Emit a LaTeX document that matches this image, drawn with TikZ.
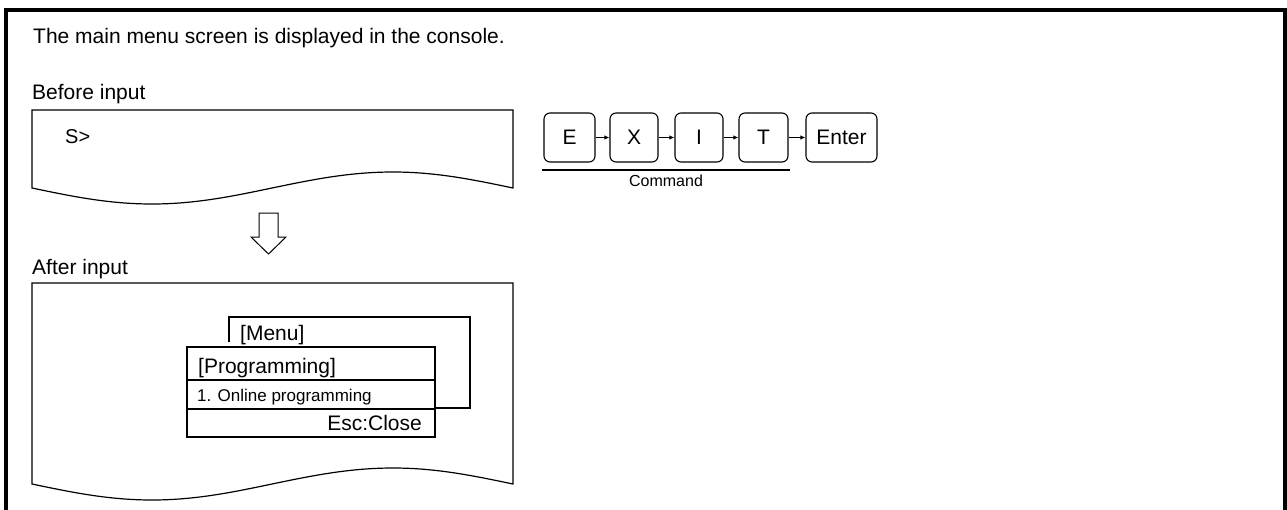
\documentclass[tikz,border=0pt]{standalone}
\usepackage{fontspec}
\setmainfont{Liberation Sans}
\usetikzlibrary{arrows.meta}
\begin{document}
\begin{tikzpicture}[x=1pt,y=-1pt,
  txt/.style={inner sep=0pt,anchor=base west,font=\fontsize{21}{25}\selectfont},
  smalltxt/.style={inner sep=0pt,anchor=base west,font=\fontsize{17}{20}\selectfont},
  keybox/.style={draw,line width=1.1pt,rounded corners=6pt,minimum height=49pt,inner sep=0pt,font=\fontsize{21}{25}\selectfont},
  keyarrow/.style={line width=1.1pt,-{Latex[length=5pt,width=4.5pt]}},
  screen/.style={line width=1.2pt,line join=miter},
  winline/.style={line width=1.3pt}]
\useasboundingbox (0,0) rectangle (1287,509);
% outer frame
\draw[line width=3.5pt] (6,520)--(6,10)--(1285,10)--(1285,520);
% texts
\node[txt] (title) at (33,43) {The main menu screen is displayed in the console.};
\node[txt] (before) at (32,99) {Before input};
\node[txt] (after) at (32,274) {After input};
% before screen
\draw[screen] (32,188)--(32,110)--(513,110)--(513,188) sin (393,172) cos (272,188) sin (152,204) cos (32,188) -- cycle;
\node[txt,font=\fontsize{20}{24}\selectfont] (prompt) at (65,143) {S>};
% down arrow
\draw[line width=1pt,line join=miter] (259,213)--(278,213)--(278,237)--(286,237)--(268.5,254)--(251,237)--(259,237)--cycle;
% after screen
\draw[screen] (32,484)--(32,283)--(513,283)--(513,484) sin (393,468) cos (272,484) sin (152,500) cos (32,484) -- cycle;
% menu window (back)
\draw[line width=1.1pt,line join=miter] (229,342)--(229,317)--(470,317)--(470,408)--(435,408);
\node[txt] (menu) at (240,340) {[Menu]};
% programming window
\draw[winline] (187,347) rectangle (435,437);
\draw[winline] (187,380)--(435,380);
\draw[winline] (187,409)--(435,409);
\node[txt] (prog) at (198,373) {[Programming]};
\node[smalltxt] (online) at (197,401.5) {1. Online programming};
\node[txt,anchor=base east] (esc) at (422,430.5) {Esc:Close};
% keys
\node[keybox,minimum width=51pt] (kE) at (569.5,137.5) {E};
\node[keybox,minimum width=48pt] (kX) at (634,137.5) {X};
\node[keybox,minimum width=48pt] (kI) at (699,137.5) {I};
\node[keybox,minimum width=49pt] (kT) at (763.5,137.5) {T};
\node[keybox,minimum width=71pt] (kEnter) at (841.5,137.5) {Enter};
\draw[keyarrow] (kE.east) -- (kX.west);
\draw[keyarrow] (kX.east) -- (kI.west);
\draw[keyarrow] (kI.east) -- (kT.west);
\draw[keyarrow] (kT.east) -- (kEnter.west);
\coordinate (cmdL) at (542,170);
\coordinate (cmdR) at (790,170);
\draw[line width=1.5pt] (cmdL) -- (cmdR);
\node[inner sep=0pt,font=\fontsize{16}{19}\selectfont] (cmd) at (666,180.5) {Command};
\end{tikzpicture}
\end{document}
